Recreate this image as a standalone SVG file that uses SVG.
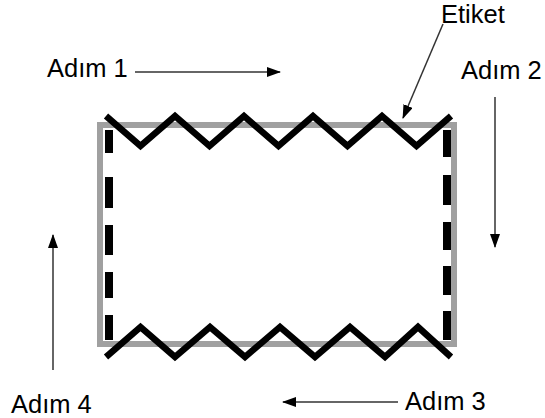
<svg xmlns="http://www.w3.org/2000/svg" width="545" height="418" viewBox="0 0 545 418">
<style>
  .lbl { font-family: "Liberation Sans", Arial, Helvetica, sans-serif; font-size: 25.5px; fill: #000; }
  .frame { fill: none; stroke: #a0a0a0; stroke-width: 6; }
  .zig { fill: none; stroke: #000; stroke-width: 6.5; stroke-linejoin: miter; }
  .dash { fill: none; stroke: #000; stroke-width: 8; }
  .conn { fill: none; stroke: #333; stroke-width: 1.5; }
</style>
<defs>
  <marker id="ah" markerWidth="14" markerHeight="10" refX="13" refY="5" orient="auto" markerUnits="userSpaceOnUse">
    <path d="M0,0 L14,5 L0,10 Z" fill="#000"/>
  </marker>
</defs>
<g id="frame">
  <rect class="frame" x="100" y="125" width="354" height="219"/>
</g>
<g id="side-left">
  <path class="dash" d="M109,130 V153 M109,177 V208 M109,225 V255 M109,272 V298 M109,315 V340"/>
</g>
<g id="side-right">
  <path class="dash" d="M447,130 V157 M447,175 V205 M447,222 V250 M447,266 V295 M447,311 V340"/>
</g>
<g id="zigzag-top">
  <polyline class="zig" points="106,116 140.5,146 175,116 209.5,146 244,116 278.5,146 313,116 347.5,146 382,116 416.5,146 451,116"/>
</g>
<g id="zigzag-bottom">
  <polyline class="zig" points="106,357 140.5,327 175,357 210,327 245,357 280,327 315,357 350,327 385,357 418,327 451,357"/>
</g>
<g id="labels">
  <text class="lbl" x="47" y="77">Adım 1</text>
  <text class="lbl" x="441" y="23">Etiket</text>
  <text class="lbl" x="461" y="79">Adım 2</text>
  <text class="lbl" x="405" y="410">Adım 3</text>
  <text class="lbl" x="11" y="413">Adım 4</text>
</g>
<g id="connectors">
  <line class="conn" x1="135" y1="72" x2="280" y2="72" marker-end="url(#ah)"/>
  <line class="conn" x1="495" y1="97" x2="495" y2="247" marker-end="url(#ah)"/>
  <line class="conn" x1="398" y1="402" x2="283" y2="402" marker-end="url(#ah)"/>
  <line class="conn" x1="53" y1="370" x2="53" y2="235" marker-end="url(#ah)"/>
  <line class="conn" x1="443" y1="24" x2="403" y2="118" marker-end="url(#ah)"/>
</g>
</svg>
